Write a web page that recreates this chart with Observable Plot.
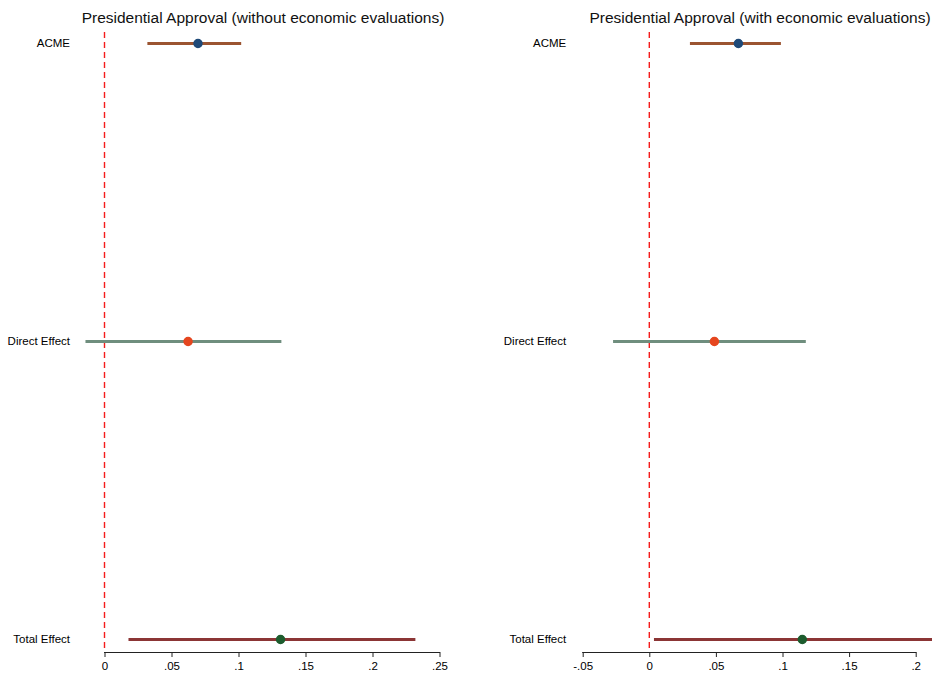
<!DOCTYPE html>
<html>
<head>
<meta charset="utf-8">
<script src="https://cdn.jsdelivr.net/npm/d3@7"></script>
<script src="https://cdn.jsdelivr.net/npm/@observablehq/plot@0.6"></script>
<style>
  html, body { margin: 0; padding: 0; background: #fff; overflow: hidden; }
  body { width: 932px; height: 675px; position: relative; font-family: "Liberation Sans", Arial, Helvetica, sans-serif; }
  .panel { position: absolute; top: 0; width: 466px; height: 675px; }
  .title { position: absolute; top: 9px; font-size: 15.5px; color: #111; white-space: nowrap; transform: translateX(-50%); }
  .chart { position: absolute; top: 28px; left: 0; }
</style>
</head>
<body>
<div id="left" class="panel" style="left:0"></div>
<div id="right" class="panel" style="left:466px"></div>
<script>
const categories = ["ACME", "Direct Effect", "Total Effect"];
const titles = ["Presidential Approval (without economic evaluations)", "Presidential Approval (with economic evaluations)"];
const lineColors = ["#9B5431", "#6F8E7E", "#8B3535"];
const dotColors = ["#1F4A78", "#E5461F", "#1D5C2E"];

// Panel 1: without economic evaluations
const est1 = [0.0694, 0.062, 0.131];
const lo1 = [0.032, -0.0142, 0.0179];
const hi1 = [0.102, 0.132, 0.232];
const ticks1 = [0, 0.05, 0.1, 0.15, 0.2, 0.25];

// Panel 2: with economic evaluations
const est2 = [0.0665, 0.0485, 0.1145];
const lo2 = [0.0305, -0.0272, 0.0035];
const hi2 = [0.0988, 0.1175, 0.214];
const ticks2 = [-0.05, 0, 0.05, 0.1, 0.15, 0.2];

const fmt = d => d === 0 ? "0" : d3.format(".2~f")(d).replace(/[\u2212-]/, "-").replace(/^(-?)0\./, "$1.");

const H = 647, MT = 4, MB = 23;

function panel(el, title, titleCenter, est, lo, hi, ticks, domain, ml, mr, pad) {
  const rows = categories.map((c, i) => ({cat: c, est: est[i], lo: lo[i], hi: hi[i], lc: lineColors[i], dc: dotColors[i]}));
  const t = document.createElement("div");
  t.className = "title";
  t.style.left = titleCenter + "px";
  t.textContent = title;
  el.appendChild(t);
  const chart = Plot.plot({
    width: 466,
    height: H,
    marginTop: MT,
    marginBottom: MB,
    marginLeft: ml,
    marginRight: mr,
    style: {fontFamily: "'Liberation Sans', Arial, Helvetica, sans-serif", fontSize: "11.5px", color: "#000", background: "transparent"},
    x: {domain, ticks, tickFormat: fmt, label: null},
    y: {type: "point", domain: categories, padding: 0, insetTop: 10, insetBottom: 13, label: null},
    marks: [
      Plot.ruleX([0], {stroke: "#F51C1C", strokeWidth: 1.4, strokeDasharray: "6,4", dx: -0.5}),
      Plot.ruleY(rows, {y: "cat", x1: "lo", x2: "hi", stroke: d => d.lc, strokeWidth: 3}),
      Plot.dot(rows, {x: "est", y: "cat", r: 4, fill: d => d.dc, stroke: d => d.dc}),
      Plot.axisX({ticks, tickFormat: fmt, tickSize: 5, tickPadding: 4, stroke: "#222", label: null}),
      Plot.axisY({tickSize: 0, tickPadding: pad, label: null})
    ]
  });
  // x-axis baseline spanning the x scale's domain
  const xs = chart.scale("x");
  const [a, b] = xs.domain.map(v => xs.apply(v));
  d3.select(chart).append("line")
    .attr("x1", a - 0.5).attr("x2", b + 0.5)
    .attr("y1", H - MB + 0.5).attr("y2", H - MB + 0.5)
    .attr("stroke", "#222").attr("stroke-width", 1);
  chart.classList.add("chart");
  el.appendChild(chart);
}

panel(document.getElementById("left"), titles[0], 263, est1, lo1, hi1, ticks1, [0, 0.25], 104.5, 26.5, 35);
panel(document.getElementById("right"), titles[1], 294, est2, lo2, hi2, ticks2, [-0.05, 0.2], 116.7, 16.3, 17);
</script>
</body>
</html>
